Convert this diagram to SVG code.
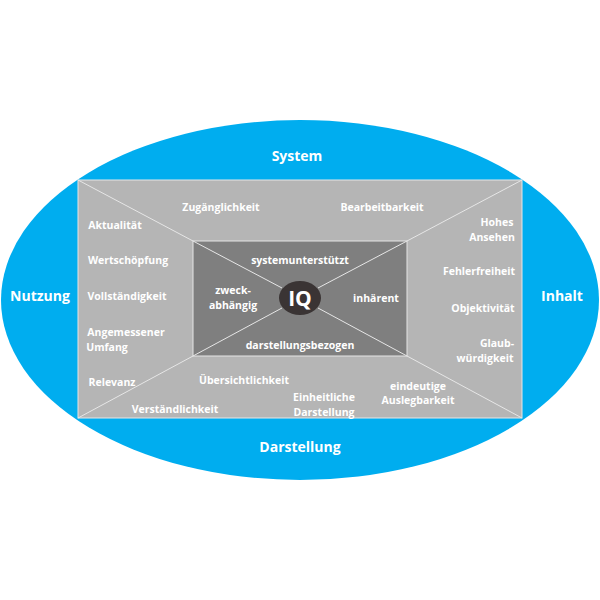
<svg xmlns="http://www.w3.org/2000/svg" width="600" height="600" viewBox="0 0 600 600">
<style>
text{font-family:"Open Sans","Liberation Sans",sans-serif;font-weight:bold;fill:#fff;text-anchor:middle}
.s{font-size:10.5px}
.b{font-size:14px}
.ln{stroke:#e6e6e6;stroke-width:1;fill:none}
</style>
<rect width="600" height="600" fill="#fff"/>
<g id="outer"><ellipse cx="300" cy="300" rx="299" ry="180" fill="#00adef"/>
<text class="b" x="297" y="161">System</text>
<text class="b" x="300" y="452">Darstellung</text>
<text class="b" x="40" y="301">Nutzung</text>
<text class="b" x="562" y="301">Inhalt</text></g>
<g id="frame"><rect x="78" y="180" width="444" height="238" fill="#b5b5b5" stroke="#e6e6e6"/></g>
<g id="inner"><rect x="193" y="241" width="214" height="115" fill="#7f7f7f" stroke="#e6e6e6"/></g>
<g id="connectors">
<path class="ln" d="M78 180L193 241M522 180L407 241M78 418L193 356M522 418L407 356M193 241L282 288M407 241L318 288M193 356L282 308M407 356L318 308"/>
</g>
<g id="iq"><ellipse cx="300" cy="298" rx="21" ry="17" fill="#3a3434"/><text x="300" y="306" font-size="21">IQ</text></g>
<g id="labels" class="s">
<text class="s" x="221" y="211">Zugänglichkeit</text>
<text class="s" x="382" y="211">Bearbeitbarkeit</text>
<text class="s" x="115" y="229">Aktualität</text>
<text class="s" x="128" y="264">Wertschöpfung</text>
<text class="s" x="127" y="300">Vollständigkeit</text>
<text class="s" x="126" y="336">Angemessener</text>
<text class="s" x="107" y="351">Umfang</text>
<text class="s" x="112" y="386">Relevanz</text>
<text class="s" x="244" y="384">Übersichtlichkeit</text>
<text class="s" x="175" y="413">Verständlichkeit</text>
<text class="s" x="324" y="401">Einheitliche</text>
<text class="s" x="324" y="416">Darstellung</text>
<text class="s" x="418" y="390">eindeutige</text>
<text class="s" x="418" y="404">Auslegbarkeit</text>
<text class="s" x="497" y="226">Hohes</text>
<text class="s" x="492" y="241">Ansehen</text>
<text class="s" x="479" y="275">Fehlerfreiheit</text>
<text class="s" x="483" y="312">Objektivität</text>
<text class="s" x="497" y="347">Glaub-</text>
<text class="s" x="485" y="362">würdigkeit</text>
<text class="s" x="300" y="264">systemunterstützt</text>
<text class="s" x="233" y="294">zweck-</text>
<text class="s" x="233" y="309">abhängig</text>
<text class="s" x="376" y="302">inhärent</text>
<text class="s" x="300" y="349">darstellungsbezogen</text>
</g>
</svg>
